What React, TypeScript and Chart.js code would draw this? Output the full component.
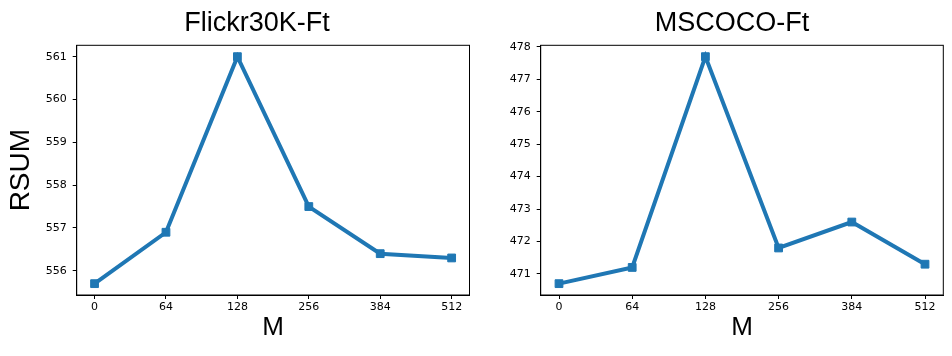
import React, { useEffect, useRef } from 'react';
import { Chart, registerables } from 'chart.js';

Chart.register(...registerables);

const xLabels = ['0', '64', '128', '256', '384', '512'];
const flickrValues = [555.7, 556.9, 561.0, 557.5, 556.4, 556.3];
const cocoValues = [470.7, 471.2, 477.7, 471.8, 472.6, 471.3];
const flickrTicks = [556, 557, 558, 559, 560, 561];
const cocoTicks = [471, 472, 473, 474, 475, 476, 477, 478];
const flickrTitle = 'Flickr30K-Ft';
const cocoTitle = 'MSCOCO-Ft';
const yLabel = 'RSUM';
const xLabel = 'M';

const BLUE = '#1f77b4';

const framePlugin = {
  id: 'frameAndTitle',
  afterDraw(chart: any, _args: any, opts: any) {
    const { ctx, chartArea } = chart;
    const { left, top, right, bottom } = chartArea;
    ctx.save();
    ctx.strokeStyle = '#000';
    ctx.lineWidth = 1;
    ctx.strokeRect(left, top, right - left, bottom - top);
    if (opts && opts.text) {
      ctx.fillStyle = '#000';
      ctx.font = `${opts.size}px "Liberation Sans", Arial, sans-serif`;
      ctx.textAlign = 'center';
      ctx.textBaseline = 'alphabetic';
      ctx.fillText(opts.text, opts.x, opts.y);
    }
    ctx.restore();
  },
};

type PanelProps = {
  values: number[];
  yTicks: number[];
  title: string;
  showYLabel: boolean;
  yWidth: number;
  padRight: number;
  titleX: number;
};

function Panel({ values, yTicks, title, showYLabel, yWidth, padRight, titleX }: PanelProps) {
  const ref = useRef<HTMLCanvasElement | null>(null);
  useEffect(() => {
    if (!ref.current) return;
    const lo = Math.min(...values);
    const hi = Math.max(...values);
    const m = (hi - lo) * 0.05;
    const n = xLabels.length - 1;
    const chart = new Chart(ref.current, {
      type: 'line',
      data: {
        datasets: [
          {
            data: values.map((y, i) => ({ x: i, y })),
            borderColor: BLUE,
            backgroundColor: BLUE,
            borderWidth: 4,
            pointStyle: 'rect',
            pointRadius: 5.5,
            pointBorderWidth: 1,
            pointBackgroundColor: BLUE,
            pointBorderColor: BLUE,
            tension: 0,
            clip: false as any,
          },
        ],
      },
      options: {
        animation: false,
        responsive: true,
        maintainAspectRatio: false,
        layout: { padding: { top: 45.3, right: padRight, left: 0, bottom: 0 } },
        plugins: {
          legend: { display: false },
          tooltip: { enabled: false },
          frameAndTitle: { text: title, x: titleX, y: 31, size: 27 },
        } as any,
        scales: {
          x: {
            type: 'linear',
            min: -n * 0.05,
            max: n * 1.05,
            afterBuildTicks: (s: any) => {
              s.ticks = xLabels.map((_, i) => ({ value: i }));
            },
            afterFit: (s: any) => {
              s.height = 61;
            },
            grid: { drawOnChartArea: false, drawTicks: true, tickLength: 4, color: '#000', lineWidth: 1 },
            border: { display: true, color: '#000', width: 1 },
            ticks: {
              color: '#000',
              font: { family: 'DejaVu Sans', size: 11 },
              padding: 2,
              maxRotation: 0,
              callback: (v: any) => xLabels[Math.round(Number(v))],
            },
            title: {
              display: true,
              text: xLabel,
              color: '#000',
              font: { family: 'Liberation Sans', size: 26 },
              padding: { top: 0, bottom: 13 },
            },
          },
          y: {
            type: 'linear',
            min: lo - m,
            max: hi + m,
            afterBuildTicks: (s: any) => {
              s.ticks = yTicks.map((v) => ({ value: v }));
            },
            afterFit: (s: any) => {
              s.width = yWidth;
            },
            grid: { drawOnChartArea: false, drawTicks: true, tickLength: 4, color: '#000', lineWidth: 1 },
            border: { display: true, color: '#000', width: 1 },
            ticks: {
              color: '#000',
              font: { family: 'DejaVu Sans', size: 11 },
              padding: 6,
            },
            title: {
              display: showYLabel,
              text: yLabel,
              color: '#000',
              font: { family: 'Liberation Sans', size: 28 },
              padding: { top: 4, bottom: 0 },
            },
          },
        },
      },
      plugins: [framePlugin],
    });
    return () => chart.destroy();
  }, []);
  return (
    <div style={{ position: 'relative', width: 476, height: 356 }}>
      <canvas ref={ref} />
    </div>
  );
}

export default function App() {
  return (
    <div style={{ position: 'absolute', left: 0, top: 0, width: 952, height: 356, display: 'flex', background: '#fff' }}>
      <Panel values={flickrValues} yTicks={flickrTicks} title={flickrTitle} showYLabel={true} yWidth={76.7} padRight={3.3} titleX={257} />
      <Panel values={cocoValues} yTicks={cocoTicks} title={cocoTitle} showYLabel={false} yWidth={64.7} padRight={8.7} titleX={256} />
    </div>
  );
}
